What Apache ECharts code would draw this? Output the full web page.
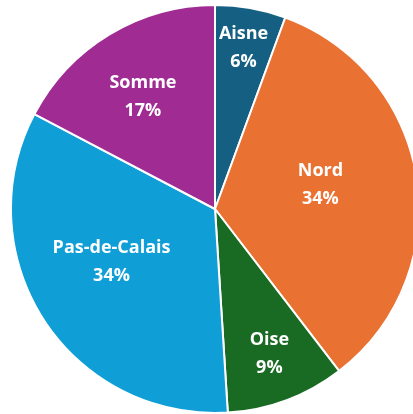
<!DOCTYPE html>
<html>
<head>
<meta charset="utf-8">
<script src="https://cdn.jsdelivr.net/npm/echarts@6/dist/echarts.min.js"></script>
<style>
  html, body { margin: 0; padding: 0; background: #fff; }
  #chart { width: 413px; height: 414px; }
</style>
</head>
<body>
<div id="chart"></div>
<script>
// departements et parts (%)
const departements = ["Aisne", "Nord", "Oise", "Pas-de-Calais", "Somme"];
const parts = [5.6, 34.0, 9.4, 33.7, 17.3];
const couleurs = ["#156082", "#E97132", "#196B24", "#0F9ED5", "#A02B93"];
// placement des étiquettes : fraction du rayon et décalage angulaire (degrés)
const labelRadius = [0.8, 0.53, 0.76, 0.57, 0.655];
const labelShift = [0, -4.2, 0, 5.8, -1.5];

const myChart = echarts.init(document.getElementById("chart"));

const option = {
    animation: false,
    series: [
        {
            type: "pie",
            center: [215, 209],
            radius: 204,
            startAngle: 90,
            clockwise: true,
            percentPrecision: 0,
            data: departements.map((name, i) => ({
                name: name,
                value: parts[i],
                itemStyle: { color: couleurs[i] }
            })),
            itemStyle: { borderColor: "#fff", borderWidth: 2 },
            label: {
                show: true,
                position: "inside",
                formatter: "{b}\n{d}%",
                color: "#fff",
                fontFamily: "Open Sans",
                fontWeight: "bold",
                fontSize: 18,
                lineHeight: 28
            },
            labelLine: { show: false },
            labelLayout: function (params) {
                const i = params.dataIndex;
                const data = myChart.getModel().getSeriesByIndex(0).getData();
                const l = data.getItemLayout(i);
                // l'axe y de l'écran pointe vers le bas : un angle plus grand tourne dans le sens horaire
                const mid = (l.startAngle + l.endAngle) / 2 + labelShift[i] * Math.PI / 180;
                const r = l.r * labelRadius[i];
                return {
                    x: l.cx + r * Math.cos(mid),
                    y: l.cy + r * Math.sin(mid),
                    align: "center",
                    verticalAlign: "middle"
                };
            }
        }
    ]
};

myChart.setOption(option);
</script>
</body>
</html>
